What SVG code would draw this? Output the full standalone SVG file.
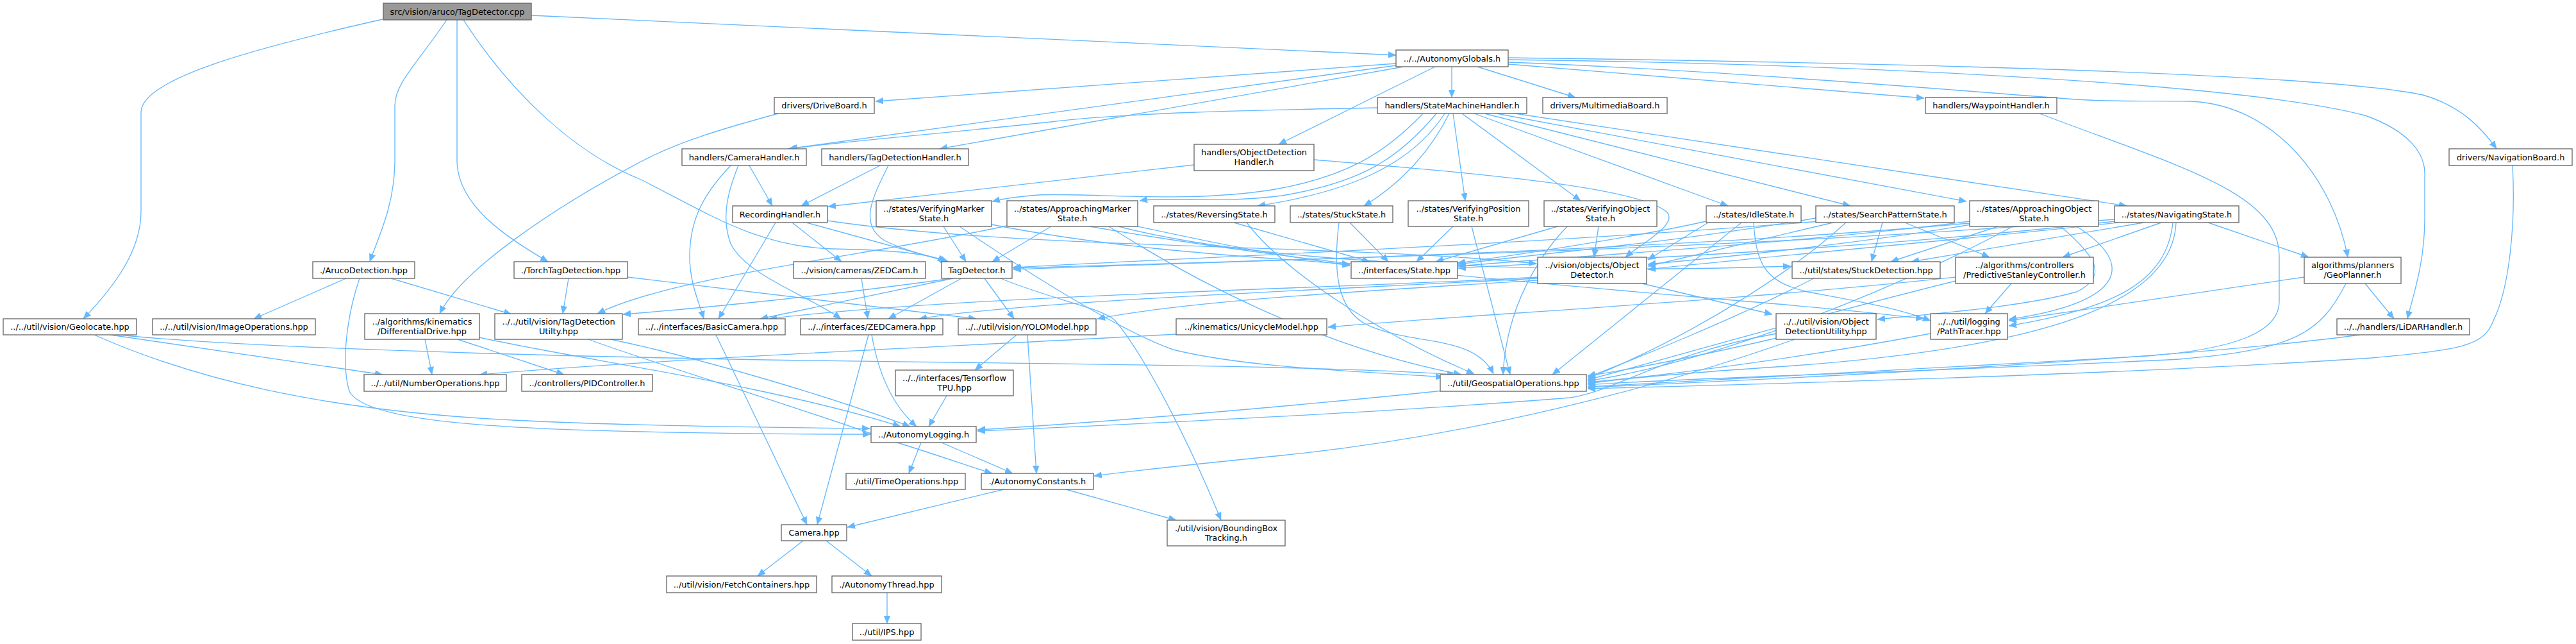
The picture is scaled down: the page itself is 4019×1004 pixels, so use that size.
<svg xmlns="http://www.w3.org/2000/svg" width="4019" height="1004" viewBox="0 0 4019 1004">
<style>
.node rect{fill:#ffffff;stroke:#666666;stroke-width:1.33}
#n0 rect{fill:#999999}
.node text{font-family:"DejaVu Sans","Liberation Sans",sans-serif;font-size:12.9px;fill:#000000;text-anchor:middle}
.edge{fill:none;stroke:#63b8ff;stroke-width:1.33;marker-end:url(#arrow)}
</style>
<defs>
<marker id="arrow" viewBox="0 0 12 10" markerWidth="12" markerHeight="10" refX="12" refY="5" orient="auto" markerUnits="userSpaceOnUse">
<path d="M0,0 L12,5 L0,10 z" fill="#63b8ff" stroke="#63b8ff" stroke-width="0.5"/>
</marker>
</defs>
<rect x="0" y="0" width="4019" height="1004" fill="#ffffff"/>
<g id="edges">
<path class="edge" d="M597,30 C420,70 220,120 220,175 L220,330 C220,390 180,445 130,497"/>
<path class="edge" d="M697,31 C650,100 616,130 616,165 L616,250 C616,320 590,370 577,408"/>
<path class="edge" d="M713,31 L713,250 C713,320 790,370 855,408"/>
<path class="edge" d="M723,31 C800,150 900,240 1000,280 C1100,330 1180,385 1300,388 C1400,390 1450,396 1478,408"/>
<path class="edge" d="M829,24 L2178,86"/>
<path class="edge" d="M2178,99 L1366,158"/>
<path class="edge" d="M2178,102 L1230,232"/>
<path class="edge" d="M2190,104 L1466,232"/>
<path class="edge" d="M2239,104 L1995,225"/>
<path class="edge" d="M2265,104 L2265,152"/>
<path class="edge" d="M2305,104 L2458,152"/>
<path class="edge" d="M2353,100 L3002,153"/>
<path class="edge" d="M2353,90 C2800,96 3600,110 3780,148 C3840,165 3872,200 3895,232"/>
<path class="edge" d="M2353,93 C2900,100 3500,130 3690,180 C3760,205 3783,240 3783,270 L3783,340 C3783,410 3765,460 3756,497"/>
<path class="edge" d="M2353,97 C2700,110 3100,145 3240,155 C3300,159 3360,157 3420,158 C3550,165 3640,280 3663,401"/>
<path class="edge" d="M2149,168 C1950,172 1750,176 1640,190 C1450,210 1300,222 1232,232"/>
<path class="edge" d="M2220,177 C2160,240 2100,275 1990,295 C1850,318 1700,300 1620,304 C1590,306 1565,310 1548,314"/>
<path class="edge" d="M2241,177 C2180,250 2120,285 2000,305 C1900,318 1820,306 1778,313"/>
<path class="edge" d="M2254,177 C2200,260 2100,300 1962,321"/>
<path class="edge" d="M2261,177 C2230,240 2180,290 2128,321"/>
<path class="edge" d="M2267,177 L2286,313"/>
<path class="edge" d="M2281,177 L2466,313"/>
<path class="edge" d="M2300,177 L2696,321"/>
<path class="edge" d="M2316,177 L2887,321"/>
<path class="edge" d="M2335,177 L3068,314"/>
<path class="edge" d="M2364,177 L3318,321"/>
<path class="edge" d="M1169,258 L1205,321"/>
<path class="edge" d="M1140,258 C1100,300 1076,340 1076,400 C1076,440 1090,470 1098,497"/>
<path class="edge" d="M1152,258 C1135,300 1125,340 1140,380 C1165,430 1260,460 1312,497"/>
<path class="edge" d="M1373,258 L1250,321"/>
<path class="edge" d="M1386,258 C1360,310 1340,350 1380,375 C1420,395 1460,400 1475,408"/>
<path class="edge" d="M1863,257 L1292,322"/>
<path class="edge" d="M2050,249 C2300,270 2550,290 2600,330 C2620,350 2560,380 2536,401"/>
<path class="edge" d="M1214,177 C1130,200 1060,220 1000,252 C870,320 720,420 686,489"/>
<path class="edge" d="M1236,347 L1313,408"/>
<path class="edge" d="M1258,347 L1480,408"/>
<path class="edge" d="M1210,347 L1121,497"/>
<path class="edge" d="M1291,344 C1600,390 2100,380 2397,411"/>
<path class="edge" d="M1472,353 L1507,408"/>
<path class="edge" d="M1547,350 C1750,390 1950,400 2106,412"/>
<path class="edge" d="M1497,353 C1640,450 1760,520 1830,545 C1950,575 2150,580 2252,588"/>
<path class="edge" d="M1640,353 L1548,408"/>
<path class="edge" d="M1571,352 C1350,400 1050,430 932,489"/>
<path class="edge" d="M1775,353 C1900,380 2000,400 2106,414"/>
<path class="edge" d="M1745,353 C2000,420 2500,425 2794,415"/>
<path class="edge" d="M1730,353 C1850,430 2050,540 2280,584"/>
<path class="edge" d="M1700,353 C2200,440 2700,460 3001,497"/>
<path class="edge" d="M1925,347 L2137,408"/>
<path class="edge" d="M1945,347 C2000,420 2150,520 2300,583"/>
<path class="edge" d="M2106,347 L2166,408"/>
<path class="edge" d="M2089,347 C2080,420 2085,480 2130,505 C2200,540 2300,520 2330,583"/>
<path class="edge" d="M2267,353 L2210,408"/>
<path class="edge" d="M2296,353 L2356,584"/>
<path class="edge" d="M2430,353 L2240,408"/>
<path class="edge" d="M2494,353 L2487,401"/>
<path class="edge" d="M2445,353 C2400,400 2350,480 2345,584"/>
<path class="edge" d="M2662,345 C2550,370 2350,400 2274,410"/>
<path class="edge" d="M2665,347 L2571,405"/>
<path class="edge" d="M2717,347 L2422,584"/>
<path class="edge" d="M2736,347 C2740,420 2760,440 2820,455 C2900,470 2960,480 3012,500"/>
<path class="edge" d="M2833,340 C2600,380 2400,395 2275,412"/>
<path class="edge" d="M2860,347 L2571,415"/>
<path class="edge" d="M2937,347 L2920,408"/>
<path class="edge" d="M2972,347 L3104,401"/>
<path class="edge" d="M2880,347 C2800,420 2650,520 2477,590"/>
<path class="edge" d="M2840,345 C2400,380 1900,400 1580,417"/>
<path class="edge" d="M3073,345 C2800,380 2450,400 2275,415"/>
<path class="edge" d="M3075,350 C2900,380 2700,400 2571,412"/>
<path class="edge" d="M3117,353 L2950,408"/>
<path class="edge" d="M3215,353 C3270,400 3290,430 3240,455 C3150,480 3000,490 2929,498"/>
<path class="edge" d="M3240,353 C3330,410 3320,470 3134,498"/>
<path class="edge" d="M3140,353 C3000,430 2700,560 2477,594"/>
<path class="edge" d="M3073,348 C2600,390 2000,405 1581,420"/>
<path class="edge" d="M3300,345 C2900,390 2500,405 2275,418"/>
<path class="edge" d="M3305,347 C3000,380 2750,400 2571,420"/>
<path class="edge" d="M3345,347 L2982,408"/>
<path class="edge" d="M3372,347 L3218,401"/>
<path class="edge" d="M3445,347 L3602,401"/>
<path class="edge" d="M3390,347 C3380,440 3300,480 3134,508"/>
<path class="edge" d="M3395,347 C3390,470 3200,540 2800,570 C2650,580 2530,590 2477,598"/>
<path class="edge" d="M3299,342 C2700,390 2000,405 1581,418"/>
<path class="edge" d="M540,434 L396,497"/>
<path class="edge" d="M610,434 L798,490"/>
<path class="edge" d="M561,434 C545,480 530,560 545,610 C570,660 800,668 1000,673 C1150,676 1300,677 1358,677"/>
<path class="edge" d="M887,434 L878,489"/>
<path class="edge" d="M979,432 L1523,497"/>
<path class="edge" d="M1344,434 L1354,497"/>
<path class="edge" d="M1485,434 C1300,460 1100,480 972,490"/>
<path class="edge" d="M1487,434 L1186,497"/>
<path class="edge" d="M1500,434 L1386,497"/>
<path class="edge" d="M1536,434 L1582,497"/>
<path class="edge" d="M1561,434 C1650,470 1720,480 1740,500 C1790,560 1860,700 1905,811"/>
<path class="edge" d="M2399,432 C2100,450 1500,460 1200,497"/>
<path class="edge" d="M2399,434 C2000,455 1600,470 1434,497"/>
<path class="edge" d="M2399,437 C2100,455 1850,470 1712,497"/>
<path class="edge" d="M2562,442 L2765,490"/>
<path class="edge" d="M2830,434 C2700,500 2550,560 2477,588"/>
<path class="edge" d="M3138,442 L3097,489"/>
<path class="edge" d="M3051,432 C2700,470 2300,490 2072,510"/>
<path class="edge" d="M3051,438 C2800,500 2600,560 2477,592"/>
<path class="edge" d="M3690,442 L3735,497"/>
<path class="edge" d="M3660,442 C3620,520 3580,545 3400,560 C3000,580 2600,590 2477,600"/>
<path class="edge" d="M3595,432 C3400,460 3200,490 3134,500"/>
<path class="edge" d="M3182,177 C3400,260 3556,300 3556,400 L3556,470 C3556,520 3480,545 3350,555 C3000,575 2600,595 2477,603"/>
<path class="edge" d="M3920,258 C3925,350 3915,450 3890,500 C3875,540 3840,545 3700,558 C3300,585 2700,600 2477,606"/>
<path class="edge" d="M3682,522 C3400,560 2800,590 2477,604"/>
<path class="edge" d="M3012,520 C2800,560 2600,585 2477,596"/>
<path class="edge" d="M2772,527 C2650,555 2550,575 2477,586"/>
<path class="edge" d="M2772,520 C2600,550 2520,610 2450,620 C2200,640 1800,660 1525,672"/>
<path class="edge" d="M2800,529 C2600,600 2300,680 2000,710 C1850,725 1760,735 1707,742"/>
<path class="edge" d="M2252,609 C2000,635 1700,660 1525,670"/>
<path class="edge" d="M1835,521 C1500,540 1100,555 748,584"/>
<path class="edge" d="M172,522 L597,584"/>
<path class="edge" d="M185,522 C400,545 1000,560 1500,565 C1900,570 2150,575 2270,584"/>
<path class="edge" d="M147,522 C300,590 500,640 800,655 C1000,665 1250,667 1357,668"/>
<path class="edge" d="M663,529 L674,584"/>
<path class="edge" d="M714,529 L880,584"/>
<path class="edge" d="M748,526 C900,560 1200,600 1405,665"/>
<path class="edge" d="M953,529 C1100,560 1300,620 1420,665"/>
<path class="edge" d="M918,529 C1000,560 1200,620 1400,690 C1480,715 1520,730 1548,738"/>
<path class="edge" d="M1360,522 C1370,580 1390,630 1430,665"/>
<path class="edge" d="M1355,522 L1275,818"/>
<path class="edge" d="M1117,522 L1259,818"/>
<path class="edge" d="M1586,522 L1521,577"/>
<path class="edge" d="M1603,522 L1617,738"/>
<path class="edge" d="M1477,617 L1449,665"/>
<path class="edge" d="M1437,690 L1418,738"/>
<path class="edge" d="M1469,690 L1580,738"/>
<path class="edge" d="M1566,763 L1322,822"/>
<path class="edge" d="M1663,763 L1835,811"/>
<path class="edge" d="M1253,843 L1182,898"/>
<path class="edge" d="M1289,843 L1360,898"/>
<path class="edge" d="M1384,924 L1384,972"/>
</g>
<g id="n0" class="node"><rect x="598" y="5" width="231" height="26"/><text x="713.5" y="22.5">src/vision/aruco/TagDetector.cpp</text></g>
<g id="n1" class="node"><rect x="2178" y="78" width="175" height="26"/><text x="2265.5" y="95.5">../../AutonomyGlobals.h</text></g>
<g id="n2" class="node"><rect x="1208" y="152" width="156" height="25"/><text x="1286" y="169">drivers/DriveBoard.h</text></g>
<g id="n3" class="node"><rect x="2149" y="152" width="233" height="25"/><text x="2265.5" y="169">handlers/StateMachineHandler.h</text></g>
<g id="n4" class="node"><rect x="2407" y="152" width="194" height="25"/><text x="2504" y="169">drivers/MultimediaBoard.h</text></g>
<g id="n5" class="node"><rect x="3004" y="152" width="205" height="25"/><text x="3106.5" y="169">handlers/WaypointHandler.h</text></g>
<g id="n6" class="node"><rect x="1064" y="232" width="194" height="26"/><text x="1161" y="249.5">handlers/CameraHandler.h</text></g>
<g id="n7" class="node"><rect x="1282" y="232" width="229" height="26"/><text x="1396.5" y="249.5">handlers/TagDetectionHandler.h</text></g>
<g id="n8" class="node"><rect x="1863" y="225" width="187" height="41"/><text x="1956.5" y="241.5">handlers/ObjectDetection<tspan x="1956.5" y="257">Handler.h</tspan></text></g>
<g id="n9" class="node"><rect x="3821" y="232" width="192" height="26"/><text x="3917" y="249.5">drivers/NavigationBoard.h</text></g>
<g id="n10" class="node"><rect x="1143" y="321" width="148" height="26"/><text x="1217" y="338.5">RecordingHandler.h</text></g>
<g id="n11" class="node"><rect x="1367" y="313" width="180" height="40"/><text x="1457" y="329.5">../states/VerifyingMarker<tspan x="1457" y="344.5">State.h</tspan></text></g>
<g id="n12" class="node"><rect x="1571" y="313" width="204" height="40"/><text x="1673" y="329.5">../states/ApproachingMarker<tspan x="1673" y="344.5">State.h</tspan></text></g>
<g id="n13" class="node"><rect x="1800" y="321" width="189" height="26"/><text x="1894.5" y="338.5">../states/ReversingState.h</text></g>
<g id="n14" class="node"><rect x="2013" y="321" width="160" height="26"/><text x="2093" y="338.5">../states/StuckState.h</text></g>
<g id="n15" class="node"><rect x="2197" y="313" width="188" height="40"/><text x="2291" y="329.5">../states/VerifyingPosition<tspan x="2291" y="344.5">State.h</tspan></text></g>
<g id="n16" class="node"><rect x="2409" y="313" width="176" height="40"/><text x="2497" y="329.5">../states/VerifyingObject<tspan x="2497" y="344.5">State.h</tspan></text></g>
<g id="n17" class="node"><rect x="2662" y="321" width="148" height="26"/><text x="2736" y="338.5">../states/IdleState.h</text></g>
<g id="n18" class="node"><rect x="2833" y="321" width="216" height="26"/><text x="2941" y="338.5">../states/SearchPatternState.h</text></g>
<g id="n19" class="node"><rect x="3073" y="313" width="201" height="40"/><text x="3173.5" y="329.5">../states/ApproachingObject<tspan x="3173.5" y="344.5">State.h</tspan></text></g>
<g id="n20" class="node"><rect x="3299" y="321" width="194" height="26"/><text x="3396" y="338.5">../states/NavigatingState.h</text></g>
<g id="n21" class="node"><rect x="488" y="408" width="159" height="26"/><text x="567.5" y="425.5">./ArucoDetection.hpp</text></g>
<g id="n22" class="node"><rect x="802" y="408" width="177" height="26"/><text x="890.5" y="425.5">./TorchTagDetection.hpp</text></g>
<g id="n23" class="node"><rect x="1238" y="408" width="206" height="26"/><text x="1341" y="425.5">../vision/cameras/ZEDCam.h</text></g>
<g id="n24" class="node"><rect x="1469" y="408" width="110" height="26"/><text x="1524" y="425.5">TagDetector.h</text></g>
<g id="n25" class="node"><rect x="2108" y="408" width="166" height="26"/><text x="2191" y="425.5">../interfaces/State.hpp</text></g>
<g id="n26" class="node"><rect x="2399" y="401" width="170" height="41"/><text x="2484" y="417.5">../vision/objects/Object<tspan x="2484" y="433">Detector.h</tspan></text></g>
<g id="n27" class="node"><rect x="2796" y="408" width="231" height="26"/><text x="2911.5" y="425.5">../util/states/StuckDetection.hpp</text></g>
<g id="n28" class="node"><rect x="3051" y="401" width="215" height="41"/><text x="3158.5" y="417.5">../algorithms/controllers<tspan x="3158.5" y="433">/PredictiveStanleyController.h</tspan></text></g>
<g id="n29" class="node"><rect x="3595" y="401" width="151" height="41"/><text x="3670.5" y="417.5">algorithms/planners<tspan x="3670.5" y="433">/GeoPlanner.h</tspan></text></g>
<g id="n30" class="node"><rect x="5" y="497" width="208" height="25"/><text x="109" y="514">../../util/vision/Geolocate.hpp</text></g>
<g id="n31" class="node"><rect x="238" y="497" width="254" height="25"/><text x="365" y="514">../../util/vision/ImageOperations.hpp</text></g>
<g id="n32" class="node"><rect x="569" y="489" width="179" height="40"/><text x="658.5" y="505.5">../algorithms/kinematics<tspan x="658.5" y="520.5">/DifferentialDrive.hpp</tspan></text></g>
<g id="n33" class="node"><rect x="772" y="489" width="199" height="40"/><text x="871.5" y="505.5">../../util/vision/TagDetection<tspan x="871.5" y="520.5">Utilty.hpp</tspan></text></g>
<g id="n34" class="node"><rect x="996" y="497" width="229" height="25"/><text x="1110.5" y="514">../../interfaces/BasicCamera.hpp</text></g>
<g id="n35" class="node"><rect x="1249" y="497" width="222" height="25"/><text x="1360" y="514">../../interfaces/ZEDCamera.hpp</text></g>
<g id="n36" class="node"><rect x="1495" y="497" width="215" height="25"/><text x="1602.5" y="514">../../util/vision/YOLOModel.hpp</text></g>
<g id="n37" class="node"><rect x="1835" y="497" width="235" height="25"/><text x="1952.5" y="514">../kinematics/UnicycleModel.hpp</text></g>
<g id="n38" class="node"><rect x="2771" y="489" width="156" height="40"/><text x="2849" y="505.5">../../util/vision/Object<tspan x="2849" y="520.5">DetectionUtility.hpp</tspan></text></g>
<g id="n39" class="node"><rect x="3012" y="489" width="120" height="40"/><text x="3072" y="505.5">../../util/logging<tspan x="3072" y="520.5">/PathTracer.hpp</tspan></text></g>
<g id="n40" class="node"><rect x="3646" y="497" width="207" height="25"/><text x="3749.5" y="514">../../handlers/LiDARHandler.h</text></g>
<g id="n41" class="node"><rect x="568" y="584" width="222" height="26"/><text x="679" y="601.5">../../util/NumberOperations.hpp</text></g>
<g id="n42" class="node"><rect x="814" y="584" width="204" height="26"/><text x="916" y="601.5">../controllers/PIDController.h</text></g>
<g id="n43" class="node"><rect x="2247" y="584" width="228" height="26"/><text x="2361" y="601.5">../util/GeospatialOperations.hpp</text></g>
<g id="n44" class="node"><rect x="1397" y="577" width="184" height="40"/><text x="1489" y="593.5">../../interfaces/Tensorflow<tspan x="1489" y="608.5">TPU.hpp</tspan></text></g>
<g id="n45" class="node"><rect x="1359" y="665" width="164" height="25"/><text x="1441" y="682">../AutonomyLogging.h</text></g>
<g id="n46" class="node"><rect x="1320" y="738" width="186" height="25"/><text x="1413" y="755">./util/TimeOperations.hpp</text></g>
<g id="n47" class="node"><rect x="1531" y="738" width="175" height="25"/><text x="1618.5" y="755">./AutonomyConstants.h</text></g>
<g id="n48" class="node"><rect x="1219" y="818" width="102" height="25"/><text x="1270" y="835">Camera.hpp</text></g>
<g id="n49" class="node"><rect x="1821" y="811" width="184" height="40"/><text x="1913" y="827.5">./util/vision/BoundingBox<tspan x="1913" y="842.5">Tracking.h</tspan></text></g>
<g id="n50" class="node"><rect x="1040" y="898" width="234" height="26"/><text x="1157" y="915.5">../util/vision/FetchContainers.hpp</text></g>
<g id="n51" class="node"><rect x="1298" y="898" width="171" height="26"/><text x="1383.5" y="915.5">./AutonomyThread.hpp</text></g>
<g id="n52" class="node"><rect x="1330" y="972" width="107" height="26"/><text x="1383.5" y="989.5">../util/IPS.hpp</text></g>
</svg>
